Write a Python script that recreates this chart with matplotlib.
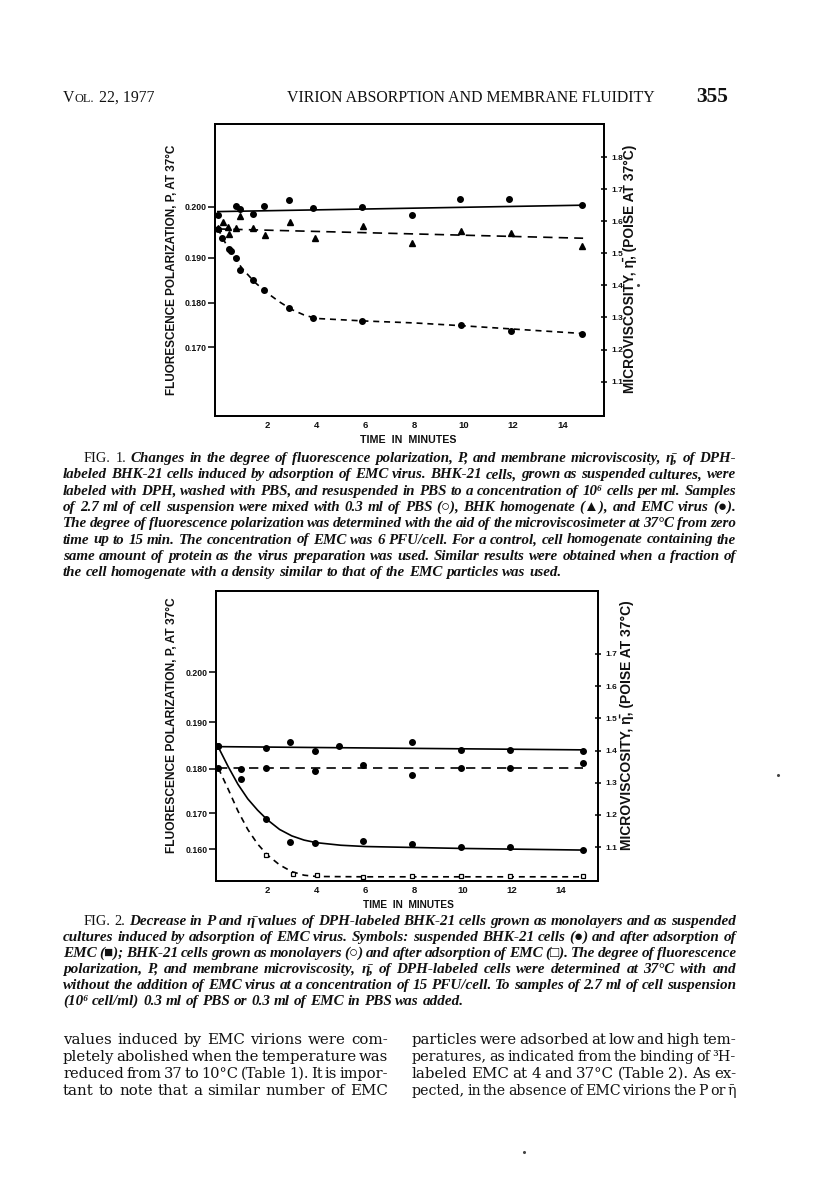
import matplotlib
matplotlib.use("Agg")
import matplotlib.pyplot as plt
from matplotlib.font_manager import FontProperties
from matplotlib.lines import Line2D

W, H = 816, 1194
SANS = ["Liberation Sans", "DejaVu Sans"]
SERIF = ["Liberation Serif", "DejaVu Serif", "DejaVu Sans"]
plt.rcParams["font.family"] = SANS

# ---------------- data: Fig. 1 (time in min, microviscosity in poise) ----------
f1_pbs_t = [0.02, 0.74, 0.9, 1.42, 1.89, 2.9, 3.88, 5.87, 7.88, 9.85, 11.85, 14.82]
f1_pbs_eta = [1.620, 1.649, 1.639, 1.622, 1.648, 1.666, 1.640, 1.643, 1.618, 1.669, 1.670, 1.650]
f1_pbs_fit_t = [0.0, 14.85]
f1_pbs_fit_eta = [1.630, 1.650]

f1_hom_t = [0.02, 0.22, 0.42, 0.47, 0.74, 0.9, 1.42, 1.92, 2.93, 3.95, 5.92, 7.88, 9.87, 11.9, 14.82]
f1_hom_eta = [1.579, 1.598, 1.582, 1.560, 1.579, 1.617, 1.579, 1.558, 1.597, 1.547, 1.584, 1.532, 1.568, 1.563, 1.523]
f1_hom_fit_t = [0.0, 14.85]
f1_hom_fit_eta = [1.576, 1.547]

f1_emc_t = [0.0, 0.16, 0.45, 0.55, 0.74, 0.9, 1.42, 1.89, 2.9, 3.88, 5.87, 9.87, 11.9, 14.82]
f1_emc_eta = [1.575, 1.549, 1.512, 1.507, 1.485, 1.448, 1.417, 1.386, 1.329, 1.298, 1.289, 1.277, 1.259, 1.249]
f1_emc_fit_t = [0.0, 0.25, 0.5, 0.75, 1.0, 1.5, 2.0, 2.5, 3.0, 3.5, 4.0, 6.0, 8.0, 10.0, 12.0, 14.85]
f1_emc_fit_eta = [1.578, 1.540, 1.508, 1.478, 1.452, 1.410, 1.377, 1.349, 1.325, 1.308, 1.297,
                  1.289, 1.283, 1.274, 1.264, 1.250]

# ---------------- data: Fig. 2 --------------------------------------------------
f2_susp_t = [0.0, 1.95, 2.94, 3.96, 4.94, 7.9, 9.9, 11.9, 14.9]
f2_susp_eta = [1.415, 1.409, 1.426, 1.397, 1.415, 1.427, 1.402, 1.402, 1.400]
f2_susp_fit_t = [0.0, 14.9]
f2_susp_fit_eta = [1.412, 1.402]

f2_susp_emc_t = [0.0, 0.92, 1.95, 2.93, 3.96, 5.9, 7.9, 9.9, 11.9, 14.9]
f2_susp_emc_eta = [1.415, 1.312, 1.187, 1.117, 1.114, 1.118, 1.110, 1.100, 1.100, 1.092]
f2_susp_emc_fit_t = [0.0, 0.4, 0.8, 1.2, 1.6, 2.0, 2.5, 3.0, 3.5, 4.0, 5.0, 6.0, 8.0, 10.0, 12.0, 14.9]
f2_susp_emc_fit_eta = [1.410, 1.350, 1.295, 1.250, 1.215, 1.185, 1.155, 1.135, 1.122, 1.114,
                       1.106, 1.102, 1.099, 1.096, 1.094, 1.091]

f2_mono_t = [0.0, 0.92, 1.95, 3.96, 5.9, 7.9, 9.9, 11.9, 14.9]
f2_mono_eta = [1.345, 1.343, 1.345, 1.335, 1.356, 1.325, 1.346, 1.345, 1.362]
f2_mono_fit_t = [0.0, 14.9]
f2_mono_fit_eta = [1.346, 1.346]

f2_mono_emc_t = [1.95, 3.04, 4.04, 5.9, 7.9, 9.9, 11.9, 14.9]
f2_mono_emc_eta = [1.076, 1.018, 1.013, 1.008, 1.011, 1.009, 1.011, 1.011]
f2_mono_emc_fit_t = [0.0, 0.4, 0.8, 1.2, 1.6, 2.0, 2.5, 3.0, 3.5, 4.0, 6.0, 8.0, 10.0, 12.0, 14.9]
f2_mono_emc_fit_eta = [1.345, 1.280, 1.212, 1.155, 1.110, 1.076, 1.045, 1.024, 1.013, 1.009,
                       1.008, 1.008, 1.008, 1.008, 1.008]

# ---------------- axis ticks ----------------------------------------------------
time_ticks = [2, 4, 6, 8, 10, 12, 14]
f1_eta_ticks = [1.1, 1.2, 1.3, 1.4, 1.5, 1.6, 1.7, 1.8]
f2_eta_ticks = [1.1, 1.2, 1.3, 1.4, 1.5, 1.6, 1.7]
f1_p_labels = ["0.200", "0.190", "0.180", "0.170"]
f1_p_at_eta = [1.645, 1.486, 1.346, 1.207]
f2_p_labels = ["0.200", "0.190", "0.180", "0.170", "0.160"]
f2_p_at_eta = [1.643, 1.487, 1.344, 1.205, 1.094]

ylabel_left = "FLUORESCENCE POLARIZATION, P, AT 37°C"
ylabel_right = "MICROVISCOSITY, η̄, (POISE AT 37°C)"
xlabel = "TIME  IN  MINUTES"

header_left = ["V", "OL.", "22, 1977"]
header_mid = "VIRION ABSORPTION AND MEMBRANE FLUIDITY"
header_page = "355"

cap1 = [
    "FIG. 1. Changes in the degree of fluorescence polarization, P, and membrane microviscosity, η̄, of DPH-",
    "labeled BHK-21 cells induced by adsorption of EMC virus. BHK-21 cells, grown as suspended cultures, were",
    "labeled with DPH, washed with PBS, and resuspended in PBS to a concentration of 10⁶ cells per ml. Samples",
    "of 2.7 ml of cell suspension were mixed with 0.3 ml of PBS (○), BHK homogenate (▲), and EMC virus (●).",
    "The degree of fluorescence polarization was determined with the aid of the microviscosimeter at 37°C from zero",
    "time up to 15 min. The concentration of EMC was 6 PFU/cell. For a control, cell homogenate containing the",
    "same amount of protein as the virus preparation was used. Similar results were obtained when a fraction of",
    "the cell homogenate with a density similar to that of the EMC particles was used.",
]
cap2 = [
    "FIG. 2. Decrease in P and η̄ values of DPH-labeled BHK-21 cells grown as monolayers and as suspended",
    "cultures induced by adsorption of EMC virus. Symbols: suspended BHK-21 cells (●) and after adsorption of",
    "EMC (■); BHK-21 cells grown as monolayers (○) and after adsorption of EMC (□). The degree of fluorescence",
    "polarization, P, and membrane microviscosity, η̄, of DPH-labeled cells were determined at 37°C with and",
    "without the addition of EMC virus at a concentration of 15 PFU/cell. To samples of 2.7 ml of cell suspension",
    "(10⁶ cell/ml) 0.3 ml of PBS or 0.3 ml of EMC in PBS was added.",
]
body_left = [
    "values induced by EMC virions were com-",
    "pletely abolished when the temperature was",
    "reduced from 37 to 10°C (Table 1). It is impor-",
    "tant to note that a similar number of EMC",
]
body_right = [
    "particles were adsorbed at low and high tem-",
    "peratures, as indicated from the binding of ³H-",
    "labeled EMC at 4 and 37°C (Table 2). As ex-",
    "pected, in the absence of EMC virions the P or η̄",
]

# ---------------- figure & helpers --------------------------------------------
fig = plt.figure(figsize=(W / 100, H / 100), dpi=100)
R = fig.canvas.get_renderer()
PX = 100 / 72.0
INK = "#111111"


def text_w(s, fp):
    t = fig.text(0, 0, s, fontproperties=fp)
    w = t.get_window_extent(R).width
    t.remove()
    return w


def fp_serif(size, style="normal", weight="normal"):
    return FontProperties(family=SERIF, size=size, style=style, weight=weight)


def fp_label(size):
    return FontProperties(family=SANS, size=size, weight="bold")


def fit_size(s, fp_maker, target):
    return 10.0 * target / text_w(s, fp_maker(10.0))


def paragraph(lines, x0, x1, yb, dy, mk, first_indent=0, n_up=0, mk_up=None,
              justify_last=False, space_em=0.25, min_space_em=0.12, size=None):
    """Justified lines, one size for the block; a line only shrinks when even
    its tightest spacing cannot hold it."""
    toks = [l.split(" ") for l in lines]

    def fpf(i, j, s):
        if i == 0 and j < n_up:
            return mk_up(s)
        return mk(s)

    base = 10.0
    word_w = []
    for i, words in enumerate(toks):
        word_w.append([text_w(w, fpf(i, j, base)) for j, w in enumerate(words)])
    if size is None:
        ratios = []
        for i, words in enumerate(toks):
            target = x1 - x0 - (first_indent if i == 0 else 0)
            nat = sum(word_w[i]) + (len(words) - 1) * space_em * base * PX
            ratios.append(target / nat)
        chk = ratios if justify_last else ratios[:-1]
        srt = sorted(chk)
        size = base * srt[len(srt) // 2]
    for i, words in enumerate(toks):
        target = x1 - x0 - (first_indent if i == 0 else 0)
        tight = sum(word_w[i]) + (len(words) - 1) * min_space_em * base * PX
        s_line = min(size, base * target / tight)
        y = yb + i * dy
        xs = x0 + (first_indent if i == 0 else 0)
        widths = [text_w(w, fpf(i, j, s_line)) for j, w in enumerate(words)]
        last = (i == len(toks) - 1) and not justify_last
        if last or len(words) == 1:
            gap = space_em * s_line * PX
        else:
            gap = (x1 - xs - sum(widths)) / (len(words) - 1)
        x = xs
        for j, w in enumerate(words):
            fig.text(x / W, 1 - y / H, w, fontproperties=fpf(i, j, s_line),
                     va="baseline", ha="left", color=INK)
            x += widths[j] + gap
    return size


def add_panel(px0, px1, py0, py1, xlim, ylim, eta_ticks, p_pos, p_lab, series,
              ylab_pos, ylab2_pos, xlab_pos, ylab_len, ylab2_len, xlab_len):
    ax = fig.add_axes([px0 / W, 1 - py1 / H, (px1 - px0) / W, (py1 - py0) / H])
    ax.set_xlim(xlim)
    ax.set_ylim(ylim)
    for (xs, ys, kw) in series:
        ax.plot(xs, ys, **kw)
    ax.set_xticks(time_ticks)
    ax.set_xticklabels([str(t) for t in time_ticks], fontweight="bold")
    ax.set_yticks(p_pos)
    ax.set_yticklabels(p_lab, fontweight="bold")
    ax.tick_params(axis="x", length=0, pad=3.5, labelsize=6.8, labelcolor=INK)
    ax.tick_params(axis="y", direction="out", length=5, width=1.1, pad=1, labelsize=6.3,
                   labelcolor=INK)
    for sp in ax.spines.values():
        sp.set_linewidth(1.3)
    ax2 = ax.twinx()
    ax2.set_ylim(ylim)
    ax2.set_yticks(eta_ticks)
    ax2.set_yticklabels(["%.1f" % v for v in eta_ticks], fontweight="bold")
    ax2.tick_params(axis="y", direction="inout", length=5, width=1.1, pad=2.5, labelsize=6.0,
                    labelcolor=INK)
    for sp in ax2.spines.values():
        sp.set_linewidth(1.3)
    # labels
    fp1 = fp_label(fit_size(ylabel_left, fp_label, ylab_len))
    ax.set_ylabel(ylabel_left, fontproperties=fp1, color=INK)
    ax.yaxis.label.set_va("center")
    ax.yaxis.set_label_coords((ylab_pos[0] - px0) / (px1 - px0),
                              1 - (ylab_pos[1] - py0) / (py1 - py0))
    fp2 = fp_label(fit_size(ylabel_right, fp_label, ylab2_len))
    ax2.set_ylabel(ylabel_right, fontproperties=fp2, rotation=90, color=INK)
    ax2.yaxis.label.set_va("center")
    ax2.yaxis.label.set_ha("center")
    ax2.yaxis.set_label_coords((ylab2_pos[0] - px0) / (px1 - px0),
                               1 - (ylab2_pos[1] - py0) / (py1 - py0))
    fp3 = fp_label(fit_size(xlabel, fp_label, xlab_len))
    ax.set_xlabel(xlabel, fontproperties=fp3, color=INK)
    ax.xaxis.label.set_va("center")
    ax.xaxis.set_label_coords((xlab_pos[0] - px0) / (px1 - px0),
                              1 - (xlab_pos[1] - py0) / (py1 - py0))
    return ax


dot = dict(ls="none", marker="o", ms=4.0, color="black", mec="black")
tri = dict(ls="none", marker="^", ms=4.2, color="black", mec="black")
sq = dict(ls="none", marker="s", ms=3.2, mfc="white", mec="black", mew=0.9)
solid = dict(ls="-", lw=1.2, color="black")
dash_long = dict(ls=(0, (5.6, 3.7)), lw=1.2, color="black")
dash_short = dict(ls=(0, (3.6, 2.9)), lw=1.2, color="black")

# Figure 1 (pixel geometry of the frame)
add_panel(215, 604, 124, 416, (-0.114, 15.70), (0.993, 1.903), f1_eta_ticks,
          f1_p_at_eta, f1_p_labels,
          [(f1_pbs_fit_t, f1_pbs_fit_eta, solid),
           (f1_hom_fit_t, f1_hom_fit_eta, dash_long),
           (f1_emc_fit_t, f1_emc_fit_eta, dash_short),
           (f1_pbs_t, f1_pbs_eta, dot),
           (f1_hom_t, f1_hom_eta, tri),
           (f1_emc_t, f1_emc_eta, dot)],
          (172, 270), (630, 268.5), (408, 440), 250, 247, 95)

# Figure 2
add_panel(215.7, 598, 590.7, 881, (-0.11, 15.51), (0.995, 1.896), f2_eta_ticks,
          f2_p_at_eta, f2_p_labels,
          [(f2_susp_fit_t, f2_susp_fit_eta, solid),
           (f2_susp_emc_fit_t, f2_susp_emc_fit_eta, solid),
           (f2_mono_fit_t, f2_mono_fit_eta, dash_long),
           (f2_mono_emc_fit_t, f2_mono_emc_fit_eta, dash_short),
           (f2_susp_t, f2_susp_eta, dot),
           (f2_susp_emc_t, f2_susp_emc_eta, dot),
           (f2_mono_t, f2_mono_eta, dot),
           (f2_mono_emc_t, f2_mono_emc_eta, sq)],
          (172, 725), (627, 725), (408, 905), 256, 250, 90)

# ---------------- header ----------------------------------------------------------
title_size = fit_size(header_mid, fp_serif, 655 - 287)
fig.text(287 / W, 1 - 101.5 / H, header_mid, fontproperties=fp_serif(title_size),
         va="baseline", ha="left", color=INK)
x = 63.0
for txt, rel, gap in [(header_left[0], 1.0, 0.0), (header_left[1], 0.78, 0.0),
                      (header_left[2], 1.0, 0.3)]:
    s = title_size * rel
    x += gap * title_size * PX
    fig.text(x / W, 1 - 101.5 / H, txt, fontproperties=fp_serif(s), va="baseline",
             ha="left", color=INK)
    x += text_w(txt, fp_serif(s))
page_size = fit_size(header_page, lambda s: fp_serif(s, weight="bold"), 728 - 696)
fig.text(696 / W, 1 - 101.5 / H, header_page,
         fontproperties=fp_serif(page_size, weight="bold"), va="baseline", ha="left",
         color=INK)

# ---------------- captions & body --------------------------------------------------
cap_mk = lambda s: fp_serif(s, style="italic", weight="bold")
cap_up = lambda s: fp_serif(s * 0.95)
paragraph(cap1, 63, 736, 462, 16.3, cap_mk, first_indent=21, n_up=2, mk_up=cap_up)
paragraph(cap2, 63, 736, 925, 16.0, cap_mk, first_indent=21, n_up=2, mk_up=cap_up)
body_mk = lambda s: FontProperties(family=["DejaVu Serif", "Liberation Serif"], size=s)
body_size = 10.8
paragraph(body_left, 63, 388, 1044, 17, body_mk, justify_last=True, size=body_size,
          min_space_em=0.15)
paragraph(body_right, 412, 736, 1044, 17, body_mk, justify_last=True, size=body_size,
          min_space_em=0.15)

# scan specks
for (x, y) in [(778, 775), (524, 1152), (638, 285)]:
    fig.add_artist(Line2D([x / W], [1 - y / H], marker="o", ms=1.2, color="#444444",
                          transform=fig.transFigure))

fig.savefig("out.png", dpi=100, facecolor="white")
